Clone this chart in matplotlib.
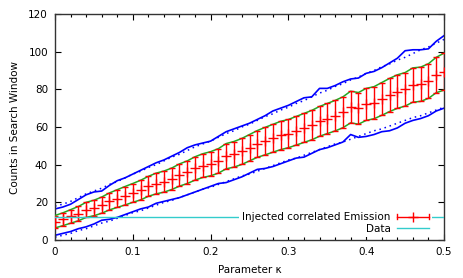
import matplotlib
matplotlib.use("Agg")
import matplotlib.pyplot as plt
from matplotlib.ticker import MultipleLocator
from matplotlib.legend_handler import HandlerBase
from matplotlib.lines import Line2D

kappa = [i / 100 for i in range(51)]

mean_counts = [9.7, 11.0, 12.5, 14.0, 16.0, 17.0, 18.5, 20.5, 22.0, 23.5,
               25.0, 26.5, 28.5, 30.0, 31.0, 32.5, 34.5, 36.0, 38.0, 39.5,
               40.5, 42.0, 44.5, 45.5, 47.0, 49.0, 51.0, 52.5, 54.0, 55.5,
               56.5, 58.0, 59.5, 61.0, 63.0, 64.5, 66.0, 67.8, 70.6, 69.9,
               72.0, 72.9, 74.9, 77.0, 78.8, 80.0, 82.3, 82.7, 84.4, 87.6,
               89.4]

err_counts = [3.3, 3.4, 3.6, 3.8, 4.0, 4.1, 4.3, 4.5, 4.7, 4.9,
              5.0, 5.2, 5.3, 5.5, 5.6, 5.7, 5.9, 6.0, 6.2, 6.3,
              6.4, 6.5, 6.7, 6.8, 6.9, 7.0, 7.1, 7.3, 7.4, 7.5,
              7.5, 7.6, 7.7, 7.8, 7.9, 8.0, 8.1, 8.2, 8.4, 8.4,
              8.5, 8.5, 8.7, 8.8, 8.9, 8.9, 9.1, 9.1, 9.2, 9.4,
              9.8]

band_upper = [16.5, 17.5, 19.0, 21.5, 24.0, 25.5, 26.0, 29.0, 31.5, 33.0,
              35.0, 37.0, 39.0, 41.0, 42.5, 44.5, 46.5, 49.0, 50.5, 51.5,
              52.5, 55.0, 57.5, 59.0, 60.5, 62.0, 64.0, 66.0, 68.5, 70.0,
              71.5, 73.5, 75.5, 76.0, 80.5, 80.5, 82.0, 84.0, 85.5, 86.0,
              88.5, 89.5, 91.5, 94.0, 96.5, 100.5, 101.0, 101.0, 101.5, 105.5,
              108.5]

band_lower = [2.5, 3.5, 4.5, 6.0, 7.0, 8.5, 10.5, 11.0, 12.0, 13.5,
              15.0, 16.5, 17.5, 19.5, 20.5, 21.5, 22.5, 24.0, 25.5, 27.0,
              28.5, 30.0, 30.5, 32.0, 33.5, 35.5, 37.5, 38.0, 39.0, 40.5,
              42.0, 43.5, 44.0, 46.0, 48.0, 49.0, 50.5, 52.0, 56.0, 54.5,
              55.0, 56.0, 57.5, 58.0, 59.5, 62.0, 63.5, 64.5, 66.0, 68.5,
              70.0]

dotted_upper = [18.0, 19.0, 20.5, 22.5, 24.5, 26.0, 27.5, 29.5, 31.0, 33.0,
                35.0, 36.5, 38.5, 40.0, 42.0, 44.0, 45.5, 47.5, 49.5, 51.0,
                52.5, 54.5, 56.5, 58.0, 60.0, 61.5, 63.5, 65.5, 67.0, 69.0,
                70.5, 72.5, 74.0, 76.0, 78.0, 79.5, 81.5, 83.0, 85.0, 86.5,
                88.5, 90.0, 92.0, 93.5, 95.5, 97.0, 99.0, 101.0, 102.5, 104.5,
                106.5]

dotted_lower = [1.5, 2.5, 3.5, 5.0, 6.0, 7.5, 9.0, 10.0, 11.5, 13.0,
                14.5, 15.5, 17.0, 18.5, 20.0, 21.0, 22.5, 24.0, 25.5, 27.0,
                28.0, 29.5, 31.0, 32.5, 34.0, 35.0, 36.5, 38.0, 39.5, 41.0,
                42.5, 43.5, 45.0, 46.5, 48.0, 49.5, 51.0, 52.0, 53.5, 55.0,
                56.5, 58.0, 59.0, 60.5, 62.0, 63.5, 65.0, 66.0, 67.5, 69.0,
                70.5]

data_x = [0.0, 0.5]
data_y = [12.0, 12.0]

upper_err = [m + e for m, e in zip(mean_counts, err_counts)]
lower_err = [m - e for m, e in zip(mean_counts, err_counts)]

RED = '#ff0000'
GREEN = '#22aa22'
BLUE = '#0000ff'
CYAN = '#33cccc'


class GnuErrHandler(HandlerBase):
    def create_artists(self, legend, orig_handle, xdescent, ydescent,
                       width, height, fontsize, trans):
        y = height / 2 - ydescent
        x0, x1 = -xdescent, -xdescent + width
        cap = 0.25 * fontsize
        arts = [
            Line2D([x0, x1], [y, y], color=RED, lw=1.0),
            Line2D([x0, x0], [y - cap, y + cap], color=RED, lw=1.0),
            Line2D([x1, x1], [y - cap, y + cap], color=RED, lw=1.0),
            Line2D([(x0 + x1) / 2], [y], color=RED, marker='+', ms=7, mew=1.0, ls='none'),
        ]
        for a in arts:
            a.set_transform(trans)
        return arts


plt.rcParams['font.family'] = ['DejaVu Sans']
fig = plt.figure(figsize=(4.63, 2.78), dpi=100)
ax = fig.add_axes([55 / 463, 38 / 278, 389 / 463, 226 / 278])

ax.plot(kappa, band_upper, color=BLUE, lw=1.2, zorder=2)
ax.plot(kappa, band_lower, color=BLUE, lw=1.2, zorder=2)
ax.plot(kappa, dotted_upper, color=BLUE, lw=1.1, ls=(0, (1, 2.5)), zorder=2)
ax.plot(kappa, dotted_lower, color=BLUE, lw=1.1, ls=(0, (1, 2.5)), zorder=2)
ax.plot(kappa, upper_err, color=GREEN, lw=1.1, zorder=3)
ax.plot(kappa, lower_err, color=GREEN, lw=1.1, zorder=3)
eb = ax.errorbar(kappa, mean_counts, yerr=err_counts, fmt='+', color=RED,
                 ms=6.5, mew=1.0, ecolor=RED, elinewidth=1.0, capsize=2.0,
                 capthick=1.0, zorder=4, label='Injected correlated Emission')
ln, = ax.plot(data_x, data_y, color=CYAN, lw=1.0, zorder=5, label='Data')

ax.set_xlim(0, 0.5)
ax.set_ylim(0, 120)
ax.set_xticks([0, 0.1, 0.2, 0.3, 0.4, 0.5])
ax.set_xticklabels(['0', '0.1', '0.2', '0.3', '0.4', '0.5'])
ax.xaxis.set_minor_locator(MultipleLocator(0.02))
ax.yaxis.set_major_locator(MultipleLocator(20))
ax.tick_params(which='both', direction='in', top=True, right=True,
               labelsize=7.5, colors='#000000', width=0.8)
ax.tick_params(which='major', length=4, pad=5)
ax.tick_params(which='minor', length=2)
for s in ax.spines.values():
    s.set_linewidth(1.0)
    s.set_color('#333333')

ax.set_xlabel('Parameter κ', fontsize=7.5, labelpad=6)
ax.set_ylabel('Counts in Search Window', fontsize=7.5, labelpad=6)

leg = ax.legend(handles=[eb, ln], loc='lower right',
                bbox_to_anchor=(0.978, 0.0), fontsize=7.5, markerfirst=False,
                frameon=True, framealpha=1.0, fancybox=False,
                handlelength=3.1, handletextpad=0.6, labelspacing=0.15,
                borderpad=0.3, borderaxespad=0.3,
                handler_map={type(eb): GnuErrHandler()})
leg.get_frame().set_edgecolor('none')
leg.get_frame().set_facecolor('white')
leg.set_zorder(10)

fig.savefig('out.png', dpi=100)
